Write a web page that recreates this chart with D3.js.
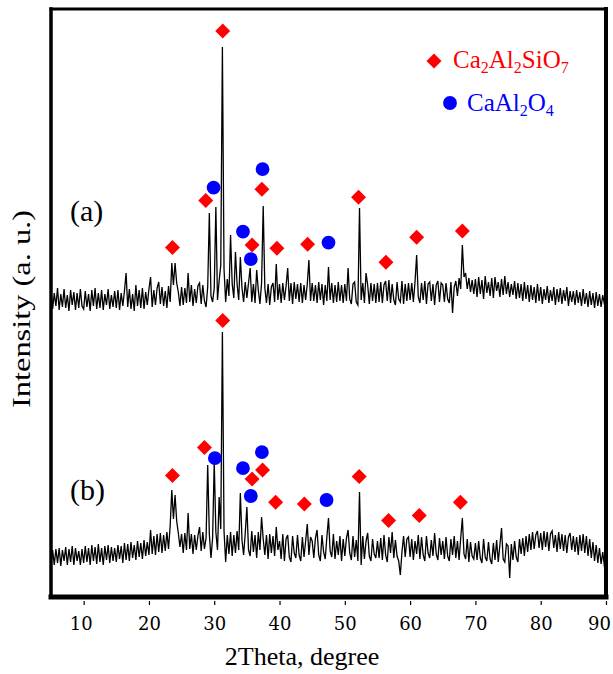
<!DOCTYPE html>
<html><head><meta charset="utf-8">
<script src="https://cdn.jsdelivr.net/npm/d3@7"></script>
<style>html,body{margin:0;padding:0;background:#fff;}</style>
</head><body>
<svg id="chart" width="613" height="674"></svg>
<script>
// ---- DATA ----
const xTicks = [10,20,30,40,50,60,70,80,90];
const blockStarts = [5,10,15,20,25,30,35,40,45,50,55,60,65,70,75,80,85]; // 2θ start of each 0.25° block row
const offsetA = 1250; // vertical stacking offset of pattern (a)

// pattern (a) intensities (a.u.), rows of 0.25° steps
const intensityA = [
 [270,180,260,195,285,175,255,190,280,185,250,170,275,200,265,175,260,185,280,195],
 [180,270,190,255,170,275,195,285,180,260,185,275,175,255,200,280,180,250,190,270],
 [185,275,175,260,195,270,360,190,280,180,255,170,300,195,275,185,285,180,265,200],
 [280,340,190,275,200,285,315,205,290,195,270,185,295,215,410,300,410,310,265,195],
 [290,200,285,210,360,215,300,195,280,210,295,310,205,300,220,190,290,660,245,215],
 [285,690,225,320,400,1490,380,215,330,245,550,305,235,465,305,225,440,285,215,315],
 [235,310,385,215,305,210,375,275,205,310,695,285,210,305,200,290,310,215,405,225],
 [305,210,310,225,295,385,220,310,205,315,230,305,215,310,210,300,225,305,425,220],
 [310,220,300,210,315,225,305,200,300,220,390,225,310,210,300,215,315,220,300,210],
 [305,220,385,230,205,305,315,215,200,685,225,310,210,360,300,205,310,220,305,210],
 [310,215,315,210,300,320,220,325,210,305,225,200,315,230,215,320,205,305,220,310],
 [225,310,215,315,450,240,210,310,225,320,205,305,315,220,305,200,300,320,215,310],
 [300,215,310,230,210,315,160,290,320,245,335,280,500,340,360,280,335,265,325,255],
 [330,240,340,255,325,230,345,260,315,245,335,235,340,270,315,240,330,250,345,255],
 [315,240,305,250,320,230,310,235,305,220,315,230,300,215,300,225,290,210,305,220],
 [290,205,280,225,295,210,275,220,290,200,280,215,285,205,275,220,290,195,270,215],
 [270,200,275,210,265,195,280,205,260,190,270,200,260,185,265,195,255,190,250,205,215]
];
// pattern (b) intensities (a.u.)
const intensityB = [
 [150,225,150,230,160,235,145,225,170,240,150,230,165,245,150,235,170,220,150,230],
 [160,245,165,235,150,250,170,240,155,255,165,235,150,245,175,250,160,240,170,235],
 [165,250,180,245,160,260,175,255,170,265,185,250,175,270,190,260,180,275,195,265],
 [200,325,205,295,200,305,215,310,210,300,220,315,230,345,525,380,500,370,310,240],
 [305,210,310,225,410,230,305,205,300,225,295,340,220,315,230,285,650,305,185,285],
 [665,315,225,490,330,1315,320,165,300,205,315,195,300,210,320,225,510,275,200,310],
 [440,225,195,320,215,300,185,315,225,390,280,200,300,180,305,210,295,195,340,225],
 [270,180,305,170,280,300,190,165,295,210,185,300,200,170,290,190,270,355,200,290],
 [270,185,285,325,200,170,300,215,180,290,385,220,190,305,180,270,200,295,170,280],
 [195,285,325,210,175,295,190,275,170,515,150,295,180,270,310,195,170,280,205,185],
 [270,185,285,175,300,200,165,290,210,315,185,275,195,170,100,215,295,190,280,290],
 [190,280,175,270,205,300,180,290,200,170,295,210,185,275,195,310,205,175,285,200],
 [270,180,290,195,170,280,200,295,185,270,175,285,385,205,180,280,165,265,195,180],
 [260,175,270,185,160,280,190,170,265,180,155,260,175,275,165,250,335,180,165,255],
 [245,85,255,175,270,190,165,280,205,285,195,295,215,305,225,315,230,300,320,235],
 [310,225,320,240,315,220,305,320,235,300,215,315,230,305,220,300,210,290,310,225],
 [295,215,290,200,300,220,305,210,295,195,280,185,265,170,250,160,235,155,215,145,160]
];
// phase markers [2θ, intensity]
const gehleniteA = [[23.6,487],[28.7,722],[31.3,1570],[35.8,500],[37.3,779],[39.6,484],[44.3,504],[52.1,739],[56.3,414],[61.0,539],[68.0,570]];
const caAl2O4A   = [[29.9,787],[34.4,567],[35.6,429],[37.4,879],[47.5,512]];
const gehleniteB = [[23.6,597],[28.5,737],[31.3,1372],[35.8,580],[37.4,625],[39.4,464],[43.8,455],[52.2,592],[56.7,372],[61.4,397],[67.7,464]];
const caAl2O4B   = [[30.1,684],[34.4,634],[35.6,495],[37.3,714],[47.2,475]];
const sampleLabels = ["(a)","(b)"];

// ---- DRAW ----
const svg = d3.select("#chart");
const L = 51, R = 606, T = 9, B = 595;
const x = d3.scaleLinear().domain([5,90]).range([L,R]);
const y = d3.scaleLinear().domain([0,2930]).range([B,T]);
const serif = "'Liberation Serif','Times New Roman',serif";
const RED = "#ff0000", BLUE = "#0000ff";

const toPoints = (rows, off) => rows.flatMap((row,r) => row.map((v,j) => [blockStarts[r] + 0.25*j, v + off]));

svg.append("clipPath").attr("id","clip").append("rect")
  .attr("x",L).attr("y",T).attr("width",R-L).attr("height",B-T);

const line = d3.line().x(d=>x(d[0])).y(d=>y(d[1]));
const g = svg.append("g").attr("clip-path","url(#clip)");
[[intensityA,offsetA],[intensityB,0]].forEach(([rows,off]) => {
  g.append("path").datum(toPoints(rows,off))
    .attr("d",line).attr("fill","none").attr("stroke","#000").attr("stroke-width",1.3)
    .attr("stroke-linejoin","miter");
});

const diamond = d3.symbol().type(d3.symbolSquare).size(112)();
const circle = d3.symbol().type(d3.symbolCircle).size(150)();
function drawMarkers(data, off, shape, color, rotate) {
  svg.append("g").selectAll("path").data(data).join("path")
    .attr("d",shape).attr("fill",color)
    .attr("transform",d=>`translate(${x(d[0])},${y(d[1]+off)})` + (rotate?" rotate(45)":""));
}
drawMarkers(gehleniteA, offsetA, diamond, RED, true);
drawMarkers(caAl2O4A, offsetA, circle, BLUE, false);
drawMarkers(gehleniteB, 0, diamond, RED, true);
drawMarkers(caAl2O4B, 0, circle, BLUE, false);

// frame
const frame = svg.append("g").attr("stroke","#000").attr("stroke-linecap","square");
frame.append("line").attr("x1",L).attr("x2",R).attr("y1",T).attr("y2",T).attr("stroke-width",3);
frame.append("line").attr("x1",L).attr("x2",L).attr("y1",T).attr("y2",B+2).attr("stroke-width",3.5);
frame.append("line").attr("x1",R).attr("x2",R).attr("y1",T).attr("y2",B+2).attr("stroke-width",4);
frame.append("line").attr("x1",L).attr("x2",R).attr("y1",B+2).attr("y2",B+2).attr("stroke-width",5);

// x axis
const ax = svg.append("g").attr("transform",`translate(0,${B+6})`)
  .call(d3.axisBottom(x).tickValues(xTicks).tickSizeInner(4).tickSizeOuter(0).tickPadding(12));
ax.select(".domain").remove();
ax.selectAll("line").attr("stroke","#000").attr("stroke-width",1.2);
ax.selectAll("text").attr("font-family","'DejaVu Serif',serif").attr("font-size",18).attr("fill","#000")
  .attr("dx", d => d === 90 ? -7 : (d === 10 ? -3 : 0));

svg.append("text").attr("x",302).attr("y",665).attr("text-anchor","middle")
  .attr("font-family",serif).attr("font-size",26).text("2Theta, degree");
svg.append("text").attr("transform","translate(30,309) rotate(-90)").attr("text-anchor","middle")
  .attr("font-family",serif).attr("font-size",26)
  .attr("textLength",198).attr("lengthAdjust","spacingAndGlyphs").text("Intensity (a. u.)");

// sample labels
svg.append("text").attr("x",70).attr("y",221).attr("font-family",serif).attr("font-size",30).text(sampleLabels[0]);
svg.append("text").attr("x",70).attr("y",500).attr("font-family",serif).attr("font-size",30).text(sampleLabels[1]);

// legend
const lg = svg.append("g");
lg.append("path").attr("d",diamond).attr("fill",RED).attr("transform","translate(434,61) rotate(45)");
lg.append("path").attr("d",circle).attr("fill",BLUE).attr("transform","translate(450,103)");
function chem(parent, xx, yy, parts, color) {
  const t = parent.append("text").attr("x",xx).attr("y",yy).attr("font-family",serif).attr("font-size",25).attr("fill",color);
  parts.forEach(([s,sub],i) => {
    const prevSub = i>0 && parts[i-1][1];
    const ts = t.append("tspan").text(s);
    if (sub) ts.attr("font-size",16).attr("dy",5);
    else ts.attr("dy", prevSub ? -5 : 0);
  });
}
chem(lg, 453, 68, [["Ca"],["2",1],["Al"],["2",1],["SiO"],["7",1]], RED);
chem(lg, 467, 111, [["CaAl"],["2",1],["O"],["4",1]], BLUE);
</script>
</body></html>
